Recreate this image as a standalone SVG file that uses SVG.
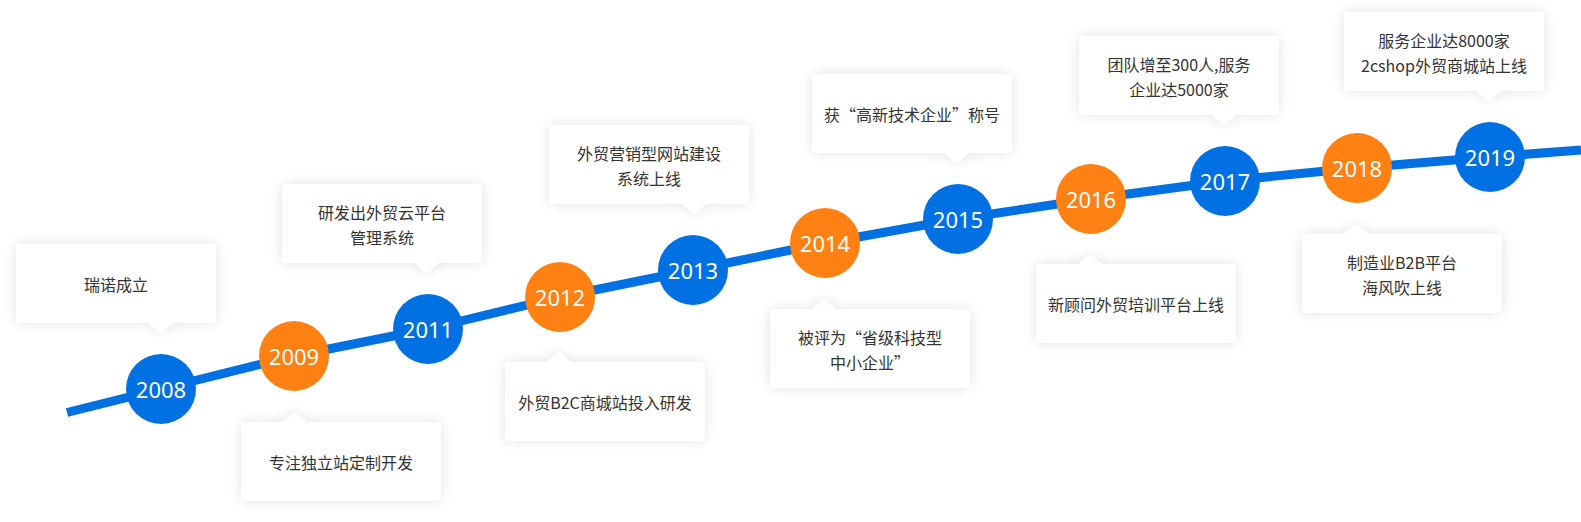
<svg xmlns="http://www.w3.org/2000/svg" width="1581" height="522" viewBox="0 0 1581 522">
<style>
.box{fill:#fff;filter:url(#sh)}
.bt{font-family:"Noto Sans CJK SC","Noto Sans",sans-serif;font-size:16px;fill:#333;text-anchor:middle;dominant-baseline:central}
.yr{font-family:"Noto Sans","Noto Sans CJK SC",sans-serif;font-size:22px;fill:#fff;text-anchor:middle;dominant-baseline:central}
.blue{fill:#0070e2}
.orange{fill:#ff8013}
</style>
<defs>
<filter id="sh" x="-30%" y="-40%" width="160%" height="180%">
<feGaussianBlur in="SourceAlpha" stdDeviation="7"/>
<feComponentTransfer><feFuncA type="linear" slope="0.12"/></feComponentTransfer>
<feMerge><feMergeNode/><feMergeNode in="SourceGraphic"/></feMerge>
</filter>
<path id="top" d="M4,0 H196 Q200,0 200,4 V75 Q200,79 196,79 H157 L145,89 L133,79 H4 Q0,79 0,75 V4 Q0,0 4,0 Z"/>
<path id="bot" d="M4,0 H42 L54,-10 L66,0 H196 Q200,0 200,4 V75 Q200,79 196,79 H4 Q0,79 0,75 V4 Q0,0 4,0 Z"/>
</defs>
<rect width="1581" height="522" fill="#fff"/>
<g id="boxes">
<g id="b2008" transform="translate(16,244)"><use href="#top" class="box"/><text class="bt" x="100" y="40">瑞诺成立</text></g>
<g id="b2009" transform="translate(241,422)"><use href="#bot" class="box"/><text class="bt" x="100" y="40">专注独立站定制开发</text></g>
<g id="b2011" transform="translate(282,184)"><use href="#top" class="box"/><text class="bt" x="100" y="28">研发出外贸云平台</text><text class="bt" x="100" y="53">管理系统</text></g>
<g id="b2012" transform="translate(505,362)"><use href="#bot" class="box"/><text class="bt" x="100" y="40">外贸B2C商城站投入研发</text></g>
<g id="b2013" transform="translate(549,125)"><use href="#top" class="box"/><text class="bt" x="100" y="28">外贸营销型网站建设</text><text class="bt" x="100" y="53">系统上线</text></g>
<g id="b2014" transform="translate(770,309)"><use href="#bot" class="box"/><text class="bt" x="100" y="28">被评为“省级科技型</text><text class="bt" x="100" y="53">中小企业”</text></g>
<g id="b2015" transform="translate(812,74)"><use href="#top" class="box"/><text class="bt" x="100" y="40">获“高新技术企业”称号</text></g>
<g id="b2016" transform="translate(1036,264)"><use href="#bot" class="box"/><text class="bt" x="100" y="40">新顾问外贸培训平台上线</text></g>
<g id="b2017" transform="translate(1079,36)"><use href="#top" class="box"/><text class="bt" x="100" y="28">团队增至300人,服务</text><text class="bt" x="100" y="53">企业达5000家</text></g>
<g id="b2018" transform="translate(1302,234)"><use href="#bot" class="box"/><text class="bt" x="100" y="28">制造业B2B平台</text><text class="bt" x="100" y="53">海风吹上线</text></g>
<g id="b2019" transform="translate(1344,12)"><use href="#top" class="box"/><text class="bt" x="100" y="28">服务企业达8000家</text><text class="bt" x="100" y="53">2cshop外贸商城站上线</text></g>
</g>
<g id="connectors">
<path d="M67,412.5 L161,389 L294,356 L428,329 L560,297 L693,270 L825,243 L958,219 L1091,199 L1225,181 L1357,168 L1490,157 L1581,150" fill="none" stroke="#0070e2" stroke-width="9" stroke-linejoin="round"/>
</g>
<g id="n2008"><circle class="blue" cx="161" cy="389" r="35"/><text class="yr" x="161" y="389">2008</text></g>
<g id="n2009"><circle class="orange" cx="294" cy="356" r="35"/><text class="yr" x="294" y="356">2009</text></g>
<g id="n2011"><circle class="blue" cx="428" cy="329" r="35"/><text class="yr" x="428" y="329">2011</text></g>
<g id="n2012"><circle class="orange" cx="560" cy="297" r="35"/><text class="yr" x="560" y="297">2012</text></g>
<g id="n2013"><circle class="blue" cx="693" cy="270" r="35"/><text class="yr" x="693" y="270">2013</text></g>
<g id="n2014"><circle class="orange" cx="825" cy="243" r="35"/><text class="yr" x="825" y="243">2014</text></g>
<g id="n2015"><circle class="blue" cx="958" cy="219" r="35"/><text class="yr" x="958" y="219">2015</text></g>
<g id="n2016"><circle class="orange" cx="1091" cy="199" r="35"/><text class="yr" x="1091" y="199">2016</text></g>
<g id="n2017"><circle class="blue" cx="1225" cy="181" r="35"/><text class="yr" x="1225" y="181">2017</text></g>
<g id="n2018"><circle class="orange" cx="1357" cy="168" r="35"/><text class="yr" x="1357" y="168">2018</text></g>
<g id="n2019"><circle class="blue" cx="1490" cy="157" r="35"/><text class="yr" x="1490" y="157">2019</text></g>
</svg>
